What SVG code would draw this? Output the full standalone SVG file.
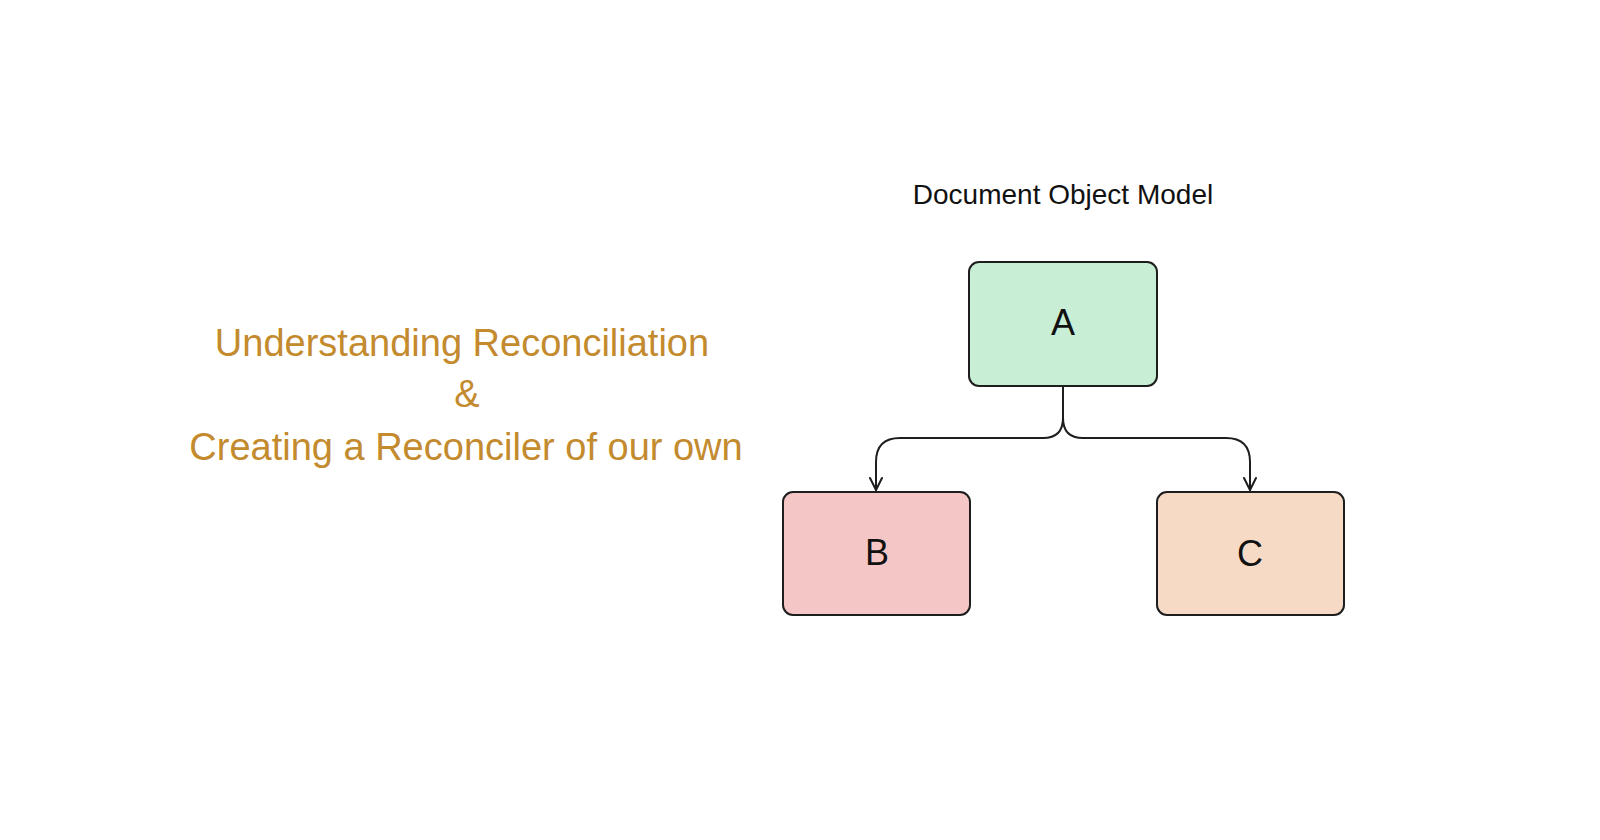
<svg xmlns="http://www.w3.org/2000/svg" width="1600" height="840" viewBox="0 0 1600 840">
<style>
.box{stroke:#1e1e1e;stroke-width:2}
.lbl{font-family:"Liberation Sans",Arial,sans-serif;font-size:36px;fill:#111;text-anchor:middle}
.title{font-family:"Liberation Sans",Arial,sans-serif;font-size:38px;fill:#c38a2e;text-anchor:middle}
.conn{fill:none;stroke:#1e1e1e;stroke-width:2;stroke-linecap:round;stroke-linejoin:round}
</style>
<defs>
<marker id="arr" viewBox="0 0 20 20" refX="18" refY="10" markerWidth="20" markerHeight="20" markerUnits="userSpaceOnUse" orient="auto">
<path d="M6 4 L18 10 L6 16" fill="none" stroke="#1e1e1e" stroke-width="2" stroke-linecap="round" stroke-linejoin="round"/>
</marker>
</defs>
<rect width="1600" height="840" fill="#ffffff"/>
<g id="title">
<text class="title" x="462" y="356">Understanding Reconciliation</text>
<text class="title" x="467" y="407">&amp;</text>
<text class="title" x="466" y="460">Creating a Reconciler of our own</text>
</g>
<g id="heading">
<text x="1063" y="204" font-family="Liberation Sans,Arial,sans-serif" font-size="28" fill="#111" text-anchor="middle">Document Object Model</text>
</g>
<g id="connectors">
<path class="conn" d="M1063 387 L1063 418 Q1063 438 1043 438 L900 438 Q876 438 876 462 L876 490" marker-end="url(#arr)"/>
<path class="conn" d="M1063 418 Q1063 438 1083 438 L1226 438 Q1250 438 1250 462 L1250 490" marker-end="url(#arr)"/>
</g>
<g id="nodeA">
<rect class="box" x="969" y="262" width="188" height="124" rx="10" fill="#c8efd6"/>
<text class="lbl" x="1063" y="335">A</text>
</g>
<g id="nodeB">
<rect class="box" x="783" y="492" width="187" height="123" rx="10" fill="#f5c6c6"/>
<text class="lbl" x="877" y="565">B</text>
</g>
<g id="nodeC">
<rect class="box" x="1157" y="492" width="187" height="123" rx="10" fill="#f7dac6"/>
<text class="lbl" x="1250" y="566">C</text>
</g>
</svg>
